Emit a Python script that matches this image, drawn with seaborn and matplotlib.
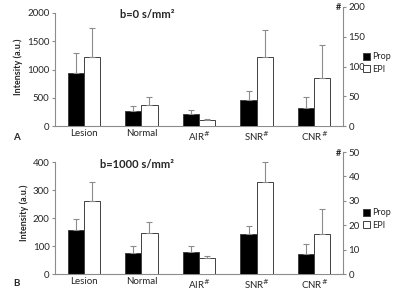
import matplotlib
matplotlib.use("Agg")
import matplotlib.pyplot as plt
import seaborn as sns
import pandas as pd
import numpy as np
from matplotlib.patches import Patch

sns.set_style("white")
plt.rcParams['font.family'] = ['Lato', 'DejaVu Sans']

categories = ["Lesion", "Normal", "AIR", "SNR", "CNR"]
tick_labels = ["Lesion", "Normal", "AIR$^{\\#}$", "SNR$^{\\#}$", "CNR$^{\\#}$"]
series = ["Prop", "EPI"]
left_cats = ["Lesion", "Normal"]
right_cats = ["AIR", "SNR", "CNR"]

# panel A (b=0)
a_prop = [940, 260, 21, 44, 30]
a_prop_err = [360, 90, 6, 14, 18]
a_epi = [1230, 365, 10, 116, 81]
a_epi_err = [510, 140, 2, 46, 55]
# panel B (b=1000)
b_prop = [156, 74, 9.2, 16.3, 8.3]
b_prop_err = [40, 25, 2.3, 3.5, 4.1]
b_epi = [260, 145, 6.5, 37.6, 16.3]
b_epi_err = [69, 41, 0.7, 8.1, 10.3]

GRAY = "#8c8c8c"
colors = {"Prop": "black", "EPI": "white"}
WIDTH = 0.56

fig = plt.figure(figsize=(4, 2.93), dpi=100)

def rect_top_px(rect):
    return (1 - rect[1] - rect[3]) * 293

def panel(rect, prop, prop_err, epi, epi_err, lmax, lticks, ltop, rmax, rticks, title, title_xy, letter, letter_y, leg_y):
    ax = fig.add_axes(rect)
    ax2 = ax.twinx()
    df = pd.DataFrame({
        "cat": categories * 2,
        "series": ["Prop"] * 5 + ["EPI"] * 5,
        "val": prop + epi,
        "err": prop_err + epi_err,
    })
    dl = df[df.cat.isin(left_cats)]
    dr = df[df.cat.isin(right_cats)]
    for a, d in ((ax, dl), (ax2, dr)):
        sns.barplot(data=d, x="cat", y="val", hue="series", order=categories,
                    hue_order=series, palette=colors, width=WIDTH, dodge=True,
                    edgecolor="#404040", linewidth=0.7, errorbar=None, legend=False, ax=a)
        for j, s in enumerate(series):
            sub = d[d.series == s]
            xs = np.array([categories.index(c) for c in sub.cat]) + (j - 0.5) * WIDTH / 2
            a.errorbar(xs, sub.val.values, yerr=[np.zeros(len(sub)), sub.err.values],
                       fmt="none", ecolor=GRAY, elinewidth=0.8, capsize=2.5, capthick=0.8, zorder=5)
    ax.set_xlim(-0.5, 4.5)
    ax.set_ylim(0, ltop)
    ax.set_yticks(lticks)
    ax2.set_ylim(0, rmax)
    ax2.set_yticks(rticks)
    ax.set_xticks(range(5))
    ax.set_xticklabels(tick_labels, fontsize=7)
    ax.set_xticks(np.arange(0.5, 4.5, 1), minor=True)
    ax.tick_params(axis="x", which="major", length=0, pad=2.5)
    ax.tick_params(axis="x", which="minor", length=3, direction="in", color=GRAY, width=0.7)
    ax.tick_params(axis="y", labelsize=7, length=2, color=GRAY, pad=2)
    ax2.tick_params(axis="y", labelsize=7, length=2, color=GRAY, pad=2)
    ax.set_xlabel("")
    ax.set_ylabel("Intensity (a.u.)", fontsize=6.5, fontweight="bold", labelpad=3)
    ax2.set_ylabel("")
    for a in (ax, ax2):
        a.spines["top"].set_visible(False)
        for sp in ("left", "right", "bottom"):
            a.spines[sp].set_color(GRAY)
            a.spines[sp].set_linewidth(0.8)
    ax.spines["right"].set_visible(False)
    ax2.spines["left"].set_visible(False)
    ax2.spines["bottom"].set_visible(False)
    ax.spines["left"].set_bounds(0, lmax)
    ax.text(title_xy[0], title_xy[1], title, transform=fig.transFigure, fontsize=8,
            fontweight="bold", ha="left", va="center")
    fig.text(13 / 400, 1 - letter_y / 293, letter, fontsize=7, fontweight="bold", ha="left", va="center")
    fig.text(338 / 400, 1 - (rect_top_px(rect) + 1) / 293, "#", fontsize=6.5, fontweight="bold", ha="center", va="center")
    handles = [Patch(facecolor="black", edgecolor="#404040", linewidth=0.7),
               Patch(facecolor="white", edgecolor="#404040", linewidth=0.7)]
    fig.legend(handles, series, loc="center left", bbox_to_anchor=(358 / 400, 1 - leg_y / 293),
               frameon=False, fontsize=6.5, handlelength=0.8, handleheight=0.8,
               handletextpad=0.3, labelspacing=0.4, borderpad=0)
    return ax

# top panel: x 55..343 px; y 7..126 px
panel([55 / 400, (293 - 126) / 293, 288 / 400, 119 / 293],
      a_prop, a_prop_err, a_epi, a_epi_err,
      2000, [0, 500, 1000, 1500, 2000], 2000 * 119 / 113,
      200, [0, 50, 100, 150, 200],
      "b=0 s/mm²", (120 / 400, 1 - 15 / 293), "A", 137, 63)
# bottom panel: y 152..274 px
panel([55 / 400, (293 - 274) / 293, 288 / 400, 122 / 293],
      b_prop, b_prop_err, b_epi, b_epi_err,
      400, [0, 100, 200, 300, 400], 400 * 122 / 112,
      50, [0, 10, 20, 30, 40, 50],
      "b=1000 s/mm²", (100 / 400, 1 - 165 / 293), "B", 283, 219)

fig.savefig("out.png", dpi=100)
